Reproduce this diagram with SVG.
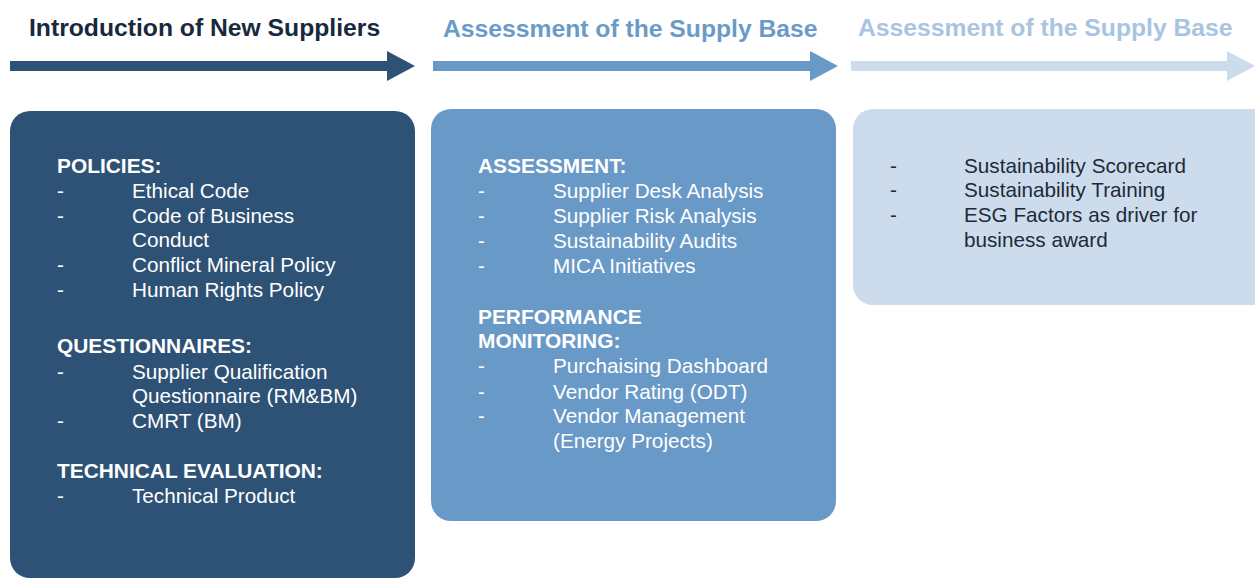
<svg xmlns="http://www.w3.org/2000/svg" width="1255" height="579" viewBox="0 0 1255 579">
<style>
text{font-family:"Liberation Sans",Arial,Helvetica,sans-serif}
.hd{font-size:24.7px;font-weight:bold}
.b{font-size:20.7px}
.bb{font-size:20.9px;font-weight:bold}
.w{fill:#ffffff}
.k{fill:#1e2a38}
.c1{fill:#2e5276}
.c2{fill:#6999c7}
.c3{fill:#ccdcec}
</style>
<rect width="1255" height="579" fill="#ffffff"/>
<g id="headers">
<text class="hd" x="29" y="36" fill="#17293d">Introduction of New Suppliers</text>
<text class="hd" x="443" y="37" fill="#6a9ac8">Assessment of the Supply Base</text>
<text class="hd" x="858" y="36" fill="#a8c4e1">Assessment of the Supply Base</text>
</g>
<g id="connectors">
<polygon class="c1" points="10,61 387,61 387,51 415,66 387,81 387,71 10,71"/>
<polygon class="c2" points="433,61 810,61 810,51 838,66 810,81 810,71 433,71"/>
<polygon class="c3" points="851,61 1227,61 1227,51 1255,66 1227,81 1227,71 851,71"/>
</g>
<g id="node-introduction">
<rect class="c1" x="10" y="111" width="405" height="467" rx="20"/>
<text class="bb w" x="57" y="172.5">POLICIES:</text>
<text class="b w" x="57" y="198">-</text><text class="b w" x="132" y="198">Ethical Code</text>
<text class="b w" x="57" y="222.5">-</text><text class="b w" x="132" y="222.5">Code of Business</text>
<text class="b w" x="132" y="247">Conduct</text>
<text class="b w" x="57" y="271.7">-</text><text class="b w" x="132" y="271.7">Conflict Mineral Policy</text>
<text class="b w" x="57" y="296.5">-</text><text class="b w" x="132" y="296.5">Human Rights Policy</text>
<text class="bb w" x="57" y="353.3">QUESTIONNAIRES:</text>
<text class="b w" x="57" y="378.5">-</text><text class="b w" x="132" y="378.5">Supplier Qualification</text>
<text class="b w" x="132" y="403">Questionnaire (RM&amp;BM)</text>
<text class="b w" x="57" y="428.3">-</text><text class="b w" x="132" y="428.3">CMRT (BM)</text>
<text class="bb w" x="57" y="477.7">TECHNICAL EVALUATION:</text>
<text class="b w" x="57" y="503.3">-</text><text class="b w" x="132" y="503.3">Technical Product</text>
</g>
<g id="node-assessment">
<rect class="c2" x="431" y="109" width="405" height="412" rx="20"/>
<text class="bb w" x="478" y="172.7">ASSESSMENT:</text>
<text class="b w" x="478" y="197.7">-</text><text class="b w" x="553" y="197.7">Supplier Desk Analysis</text>
<text class="b w" x="478" y="223">-</text><text class="b w" x="553" y="223">Supplier Risk Analysis</text>
<text class="b w" x="478" y="248.3">-</text><text class="b w" x="553" y="248.3">Sustainability Audits</text>
<text class="b w" x="478" y="272.7">-</text><text class="b w" x="553" y="272.7">MICA Initiatives</text>
<text class="bb w" x="478" y="324">PERFORMANCE</text>
<text class="bb w" x="478" y="348.3">MONITORING:</text>
<text class="b w" x="478" y="373.3">-</text><text class="b w" x="553" y="373.3">Purchaising Dashboard</text>
<text class="b w" x="478" y="399">-</text><text class="b w" x="553" y="399">Vendor Rating (ODT)</text>
<text class="b w" x="478" y="423.3">-</text><text class="b w" x="553" y="423.3">Vendor Management</text>
<text class="b w" x="553" y="447.7">(Energy Projects)</text>
</g>
<g id="node-sustainability">
<rect class="c3" x="853" y="109" width="422" height="196" rx="20"/>
<text class="b k" x="890" y="172.5">-</text><text class="b k" x="964" y="172.5">Sustainability Scorecard</text>
<text class="b k" x="890" y="197.3">-</text><text class="b k" x="964" y="197.3">Sustainability Training</text>
<text class="b k" x="890" y="222">-</text><text class="b k" x="964" y="222">ESG Factors as driver for</text>
<text class="b k" x="964" y="246.5">business award</text>
</g>
</svg>
